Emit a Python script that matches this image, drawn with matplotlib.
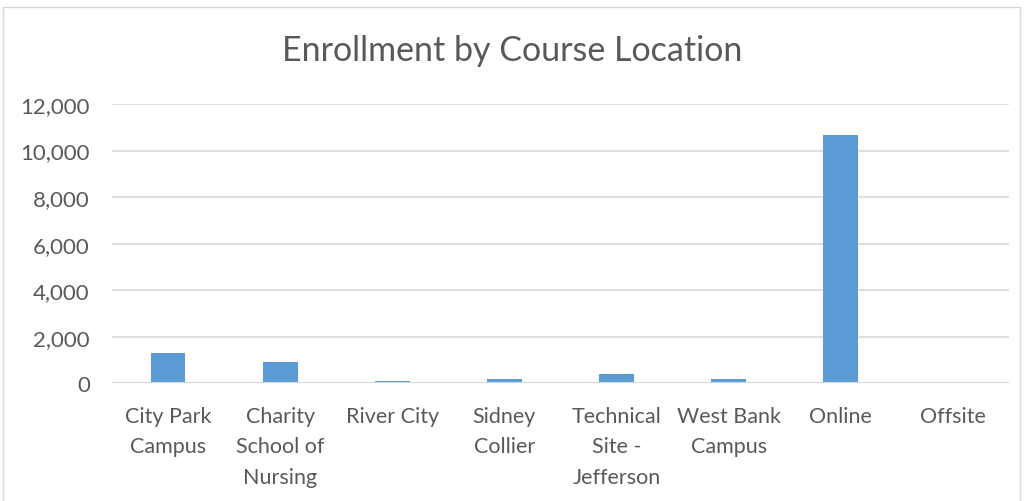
import matplotlib.pyplot as plt
import numpy as np
from matplotlib.ticker import FuncFormatter
from matplotlib.patches import Rectangle

locations = ["City Park\nCampus", "Charity\nSchool of\nNursing", "River City",
             "Sidney\nCollier", "Technical\nSite -\nJefferson", "West Bank\nCampus",
             "Online", "Offsite"]
enrollment = [1310, 930, 80, 175, 400, 185, 10650, 0]
yticks = [0, 2000, 4000, 6000, 8000, 10000, 12000]

plt.rcParams['font.family'] = ['Lato', 'DejaVu Sans']
grey = "#595959"

fig = plt.figure(figsize=(10.24, 5.02), dpi=100)
ax = fig.add_axes([112 / 1024, 1 - 384.3 / 502, 897 / 1024, 279.3 / 502])

x = np.arange(len(locations))
ax.bar(x, enrollment, width=0.31, color="#5b9bd5", zorder=3)

ax.set_xlim(-0.5, len(locations) - 0.5)
ax.set_ylim(0, 12000)
ax.set_yticks(yticks)
ax.yaxis.set_major_formatter(FuncFormatter(lambda v, p: "{:,.0f}".format(v)))
ax.set_xticks(x)
ax.set_xticklabels(locations, linespacing=1.66, va="top")
ax.tick_params(axis="both", length=0, colors=grey)
ax.tick_params(axis="x", pad=16, labelsize=15.5)
ax.tick_params(axis="y", pad=16, labelsize=16)
ax.grid(axis="y", color="#d9d9d9", linewidth=1.2, zorder=0)
for s in ax.spines.values():
    s.set_visible(False)
ax.axhline(0, color="#d9d9d9", linewidth=1.5, zorder=4)

fig.text(0.5, 1 - 51 / 502, "Enrollment by Course Location", ha="center",
         va="center", fontsize=24.5, color=grey)

fig.patches.append(Rectangle((3 / 1024, -0.01), 1017 / 1024, 1 - 3 / 502,
                             transform=fig.transFigure, fill=False,
                             edgecolor="#d9d9d9", linewidth=1))

fig.savefig("out.png", dpi=100)
